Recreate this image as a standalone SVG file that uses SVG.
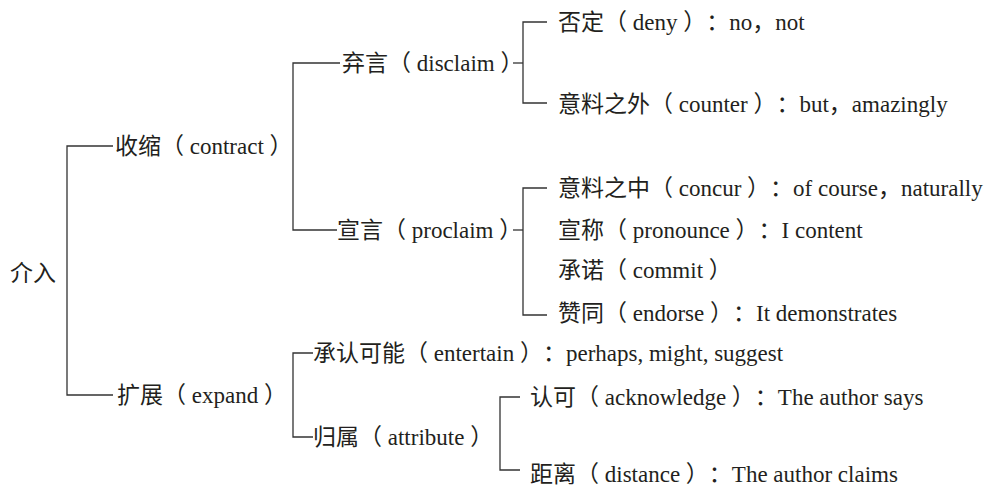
<svg xmlns="http://www.w3.org/2000/svg" width="992" height="488" viewBox="0 0 992 488">
<style>
text{font-family:"Liberation Serif","Noto Sans CJK SC",serif;font-size:23px;fill:#231f20;text-spacing-trim:space-all}
.c{fill:none;stroke:#333;stroke-width:1.3}
</style>
<rect width="992" height="488" fill="#fff"/>
<g id="connectors">
<path class="c" d="M113,146 H67 V395 H113"/>
<path class="c" d="M340,63 H293 V230 H337"/>
<path class="c" d="M513,63 H523"/>
<path class="c" d="M547,22 H523 V103 H547"/>
<path class="c" d="M513,230 H523"/>
<path class="c" d="M547,188 H523 V315 H547"/>
<path class="c" d="M313,353 H293 V437 H313"/>
<path class="c" d="M520,397 H500 V470 H520"/>
</g>
<g id="n-root"><text x="10" y="281">介入</text></g>
<g id="n-contract"><text x="115" y="154">收缩（ contract ）</text></g>
<g id="n-expand"><text x="117" y="403">扩展（ expand ）</text></g>
<g id="n-disclaim"><text x="342" y="71">弃言（ disclaim ）</text></g>
<g id="n-proclaim"><text x="337" y="238">宣言（ proclaim ）</text></g>
<g id="n-deny"><text x="558" y="30">否定（ deny ）：no，not</text></g>
<g id="n-counter"><text x="558" y="112">意料之外（ counter ）：but，amazingly</text></g>
<g id="n-concur"><text x="558" y="196">意料之中（ concur ）：of course，naturally</text></g>
<g id="n-pronounce"><text x="558" y="238">宣称（ pronounce ）：I content</text></g>
<g id="n-commit"><text x="558" y="278">承诺（ commit ）</text></g>
<g id="n-endorse"><text x="558" y="321">赞同（ endorse ）：It demonstrates</text></g>
<g id="n-entertain"><text x="313" y="361">承认可能（ entertain ）：perhaps, might, suggest</text></g>
<g id="n-attribute"><text x="313" y="445">归属（ attribute ）</text></g>
<g id="n-acknowledge"><text x="530" y="405">认可（ acknowledge ）：The author says</text></g>
<g id="n-distance"><text x="530" y="482">距离（ distance ）：The author claims</text></g>
</svg>
